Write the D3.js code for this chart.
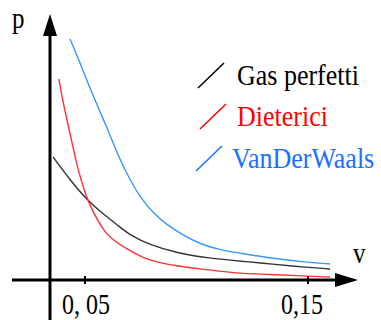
<!DOCTYPE html>
<html>
<head>
<meta charset="utf-8">
<script src="https://cdn.jsdelivr.net/npm/d3@7"></script>
<style>
  body { margin: 0; background: #fff; }
</style>
</head>
<body>
<div class="main"></div>
<script>
// volume values (v) and pressure values (p, arbitrary units)
var gasV = [0.0357, 0.0433, 0.0509, 0.0581, 0.0657, 0.0702, 0.0791, 0.0913, 0.1047, 0.1240, 0.1330, 0.1478, 0.1599];
var gasP = [49.2, 40.0, 32.0, 26.4, 21.2, 18.0, 14.0, 10.8, 8.8, 7.2, 6.4, 5.2, 4.4];

var dieV = [0.0383, 0.0397, 0.0419, 0.0442, 0.0469, 0.0500, 0.0531, 0.0576, 0.0612, 0.0688, 0.0760, 0.0836, 0.0917, 0.1016, 0.1163, 0.1330, 0.1478, 0.1599];
var dieP = [80.4, 73.2, 64.0, 54.8, 44.0, 34.8, 28.0, 20.8, 16.8, 12.4, 8.8, 6.8, 5.6, 4.4, 2.8, 2.2, 1.6, 1.2];

var vdwV = [0.0433, 0.0478, 0.0513, 0.0558, 0.0603, 0.0657, 0.0702, 0.0747, 0.0805, 0.0868, 0.0939, 0.1016, 0.1105, 0.1217, 0.1330, 0.1478, 0.1599];
var vdwP = [96.4, 86.8, 78.8, 69.2, 60.0, 48.0, 40.0, 33.2, 26.8, 22.0, 18.0, 14.4, 12.0, 10.4, 8.8, 7.2, 6.4];

var seriesNames = ["Gas perfetti", "Dieterici", "VanDerWaals"];
var tickValues = [0.05, 0.15];
var tickLabels = ["0, 05", "0,15"];

var serif = "'Liberation Serif', 'Times New Roman', 'DejaVu Serif', serif";

function BuildGraph() {
  var fullwidth = 381, fullheight = 320;
  var svg = d3.select(".main")
    .append("svg")
    .attr("width", fullwidth)
    .attr("height", fullheight);

  var x = d3.scaleLinear().domain([0.05, 0.15]).range([85, 308]);
  var y = d3.scaleLinear().domain([0, 100]).range([280, 30]);

  var axisX = 50; // where the p axis stands

  // x axis line + arrow
  svg.append("line")
    .attr("x1", 12).attr("x2", 337)
    .attr("y1", y(0)).attr("y2", y(0))
    .attr("stroke", "#000").attr("stroke-width", 3);
  svg.append("path")
    .attr("d", "M335," + (y(0) - 7) + "L358," + y(0) + "L335," + (y(0) + 7) + "Z")
    .attr("fill", "#000");

  // y axis line + arrow
  svg.append("line")
    .attr("x1", axisX).attr("x2", axisX)
    .attr("y1", 34).attr("y2", 320)
    .attr("stroke", "#000").attr("stroke-width", 3);
  svg.append("path")
    .attr("d", "M" + (axisX - 7) + ",36L" + axisX + ",14L" + (axisX + 7) + ",36Z")
    .attr("fill", "#000");

  // ticks
  svg.selectAll(".tick")
    .data(tickValues)
    .join("line")
    .attr("class", "tick")
    .attr("x1", d => x(d)).attr("x2", d => x(d))
    .attr("y1", y(0) - 4).attr("y2", y(0) + 4)
    .attr("stroke", "#000").attr("stroke-width", 2);

  // tick labels (font looks stretched vertically)
  svg.selectAll(".tlab")
    .data(tickValues)
    .join("text")
    .attr("class", "tlab")
    .attr("transform", (d, i) => "translate(" + (x(d) + (i ? -6 : 1)) + ",314) scale(1,1.2)")
    .attr("text-anchor", "middle")
    .attr("font-family", serif)
    .attr("font-size", 24)
    .text((d, i) => tickLabels[i]);

  // axis names
  svg.append("text")
    .attr("transform", "translate(12,28) scale(1,1.2)")
    .attr("font-family", serif)
    .attr("font-size", 25)
    .text("p");
  svg.append("text")
    .attr("transform", "translate(353,263) scale(1,1.2)")
    .attr("font-family", serif)
    .attr("font-size", 25)
    .text("v");

  var line = d3.line()
    .x(d => x(d[0]))
    .y(d => y(d[1]))
    .curve(d3.curveBasis);

  var series = [
    { name: seriesNames[0], v: gasV, p: gasP, color: "#333333", key: "#000000" },
    { name: seriesNames[1], v: dieV, p: dieP, color: "#ff3030", key: "#ff0000" },
    { name: seriesNames[2], v: vdwV, p: vdwP, color: "#3399ff", key: "#1a6fff" }
  ];

  svg.append("g")
    .selectAll("path")
    .data(series)
    .join("path")
    .attr("fill", "none")
    .attr("stroke", d => d.color)
    .attr("stroke-width", 1.4)
    .attr("d", d => line(d.v.map((v, i) => [v, d.p[i]])));

  // legend
  var legendY = [85, 126, 168];
  var legendX = [237, 237, 232];
  var legendLineX = [198, 200, 196];
  var leg = svg.append("g")
    .selectAll("g")
    .data(series)
    .join("g");
  leg.append("line")
    .attr("x1", (d, i) => legendLineX[i])
    .attr("y1", (d, i) => legendY[i] + 3)
    .attr("x2", (d, i) => legendLineX[i] + 26)
    .attr("y2", (d, i) => legendY[i] - 22)
    .attr("stroke", d => d.key)
    .attr("stroke-width", 1.5);
  leg.append("text")
    .attr("transform", (d, i) => "translate(" + legendX[i] + "," + legendY[i] + ") scale(1,1.12)")
    .attr("font-family", serif)
    .attr("font-size", 26)
    .attr("fill", d => d.key)
    .text(d => d.name);
}

BuildGraph();
</script>
</body>
</html>
